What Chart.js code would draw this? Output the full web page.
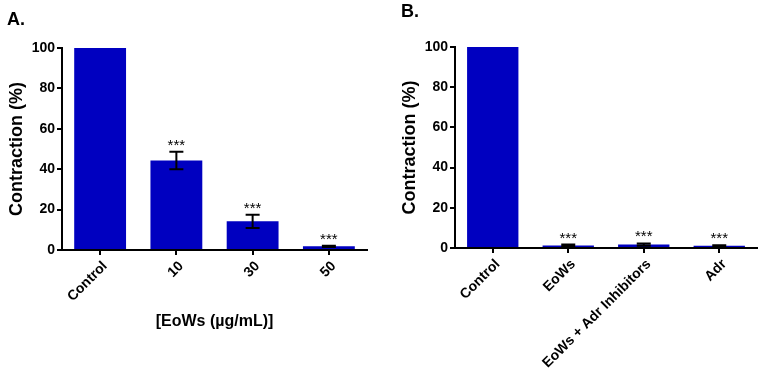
<!DOCTYPE html>
<html>
<head>
<meta charset="utf-8">
<script src="https://cdn.jsdelivr.net/npm/chart.js@4.4.0/dist/chart.umd.min.js"></script>
<style>
  html, body { margin: 0; padding: 0; background: #fff; }
  body { width: 762px; height: 378px; position: relative; overflow: hidden; font-family: "Liberation Sans", Arial, sans-serif; }
  .panel { position: absolute; top: 0; height: 378px; }
  #wrapA { left: 0; width: 380px; }
  #wrapB { left: 380px; width: 382px; }
  .tag { position: absolute; font-weight: bold; font-size: 18px; line-height: 18px; color: #000; }
</style>
</head>
<body>
<div class="panel" id="wrapA"><canvas id="chartA" width="380" height="378"></canvas></div>
<div class="panel" id="wrapB"><canvas id="chartB" width="382" height="378"></canvas></div>
<div class="tag" style="left:7px; top:10px;">A.</div>
<div class="tag" style="left:401px; top:2px;">B.</div>
<script>
const catsA = ['Control', '10', '30', '50'];
const valsA = [100, 44.3, 14.2, 1.8];
const errA = [0, 4.3, 3.3, 0.3];
const sigA = ['', '***', '***', '***'];

const catsB = ['Control', 'EoWs', 'EoWs + Adr Inhibitors', 'Adr'];
const valsB = [100, 1.2, 1.7, 1.1];
const errB = [0, 0.5, 0.6, 0.3];
const sigB = ['', '***', '***', '***'];

const yTicks = [0, 20, 40, 60, 80, 100];

const FONT = '"Liberation Sans", Arial, sans-serif';
const BAR = '#0000C0';

// error bars + significance stars
const errPlugin = {
  id: 'errStars',
  afterDatasetsDraw(chart, args, opts) {
    const ctx = chart.ctx;
    const y = chart.scales.y;
    const meta = chart.getDatasetMeta(0);
    const vals = chart.data.datasets[0].data;
    ctx.save();
    meta.data.forEach((bar, i) => {
      const e = opts.err[i];
      const top = y.getPixelForValue(vals[i] + e);
      if (e > 0) {
        const bot = y.getPixelForValue(vals[i] - e);
        ctx.strokeStyle = '#000';
        ctx.lineWidth = 2;
        ctx.beginPath();
        ctx.moveTo(bar.x, top); ctx.lineTo(bar.x, bot);
        ctx.moveTo(bar.x - 7, top); ctx.lineTo(bar.x + 7, top);
        ctx.moveTo(bar.x - 7, bot); ctx.lineTo(bar.x + 7, bot);
        ctx.stroke();
      }
      if (opts.sig[i]) {
        ctx.fillStyle = '#000';
        ctx.font = '15px ' + FONT;
        ctx.textAlign = 'center';
        ctx.textBaseline = 'alphabetic';
        ctx.fillText(opts.sig[i], bar.x, top - 2);
      }
    });
    ctx.restore();
  }
};

function makeChart(id, cats, vals, err, sig, box) {
  return new Chart(document.getElementById(id), {
    type: 'bar',
    data: {
      labels: cats,
      datasets: [{
        data: vals,
        backgroundColor: BAR,
        borderWidth: 0,
        categoryPercentage: 1,
        barPercentage: 0.68
      }]
    },
    options: {
      responsive: false,
      animation: false,
      events: [],
      layout: { padding: { left: 0, right: box.right, top: box.top, bottom: 0 } },
      plugins: {
        legend: { display: false },
        tooltip: { enabled: false },
        errStars: { err: err, sig: sig }
      },
      scales: {
        x: {
          afterFit: s => { s.height = box.xh; s.paddingLeft = 0; s.paddingRight = 0; },
          border: { display: true, color: '#000', width: 2 },
          grid: { offset: false, drawOnChartArea: false, drawTicks: true, tickLength: 5, color: '#000', lineWidth: 2 },
          ticks: {
            color: '#000', maxRotation: 45, minRotation: 45, autoSkip: false, padding: 3, labelOffset: 5,
            font: { family: FONT, size: 14, weight: 'bold' }
          },
          title: {
            display: !!box.xtitle, text: box.xtitle || '', color: '#000',
            font: { family: FONT, size: 16, weight: 'bold', lineHeight: 1.2 },
            padding: { top: 0, bottom: 47 }
          }
        },
        y: {
          min: 0, max: 100,
          afterFit: s => { s.width = box.yw; s.paddingTop = 0; s.paddingBottom = 0; },
          afterBuildTicks: s => { s.ticks = yTicks.map(v => ({ value: v })); },
          border: { display: true, color: '#000', width: 2 },
          grid: { drawOnChartArea: false, drawTicks: true, tickLength: 5, color: '#000', lineWidth: 2 },
          ticks: {
            color: '#000', padding: 2,
            font: { family: FONT, size: 14, weight: 'bold' }
          },
          title: {
            display: true, text: 'Contraction (%)', color: '#000',
            font: { family: FONT, size: 18, weight: 'bold', lineHeight: 1.2 },
            padding: { top: box.ytp, bottom: 0 }
          }
        }
      }
    },
    plugins: [errPlugin]
  });
}

makeChart('chartA', catsA, valsA, errA, sigA,
  { right: 13, top: 48, xh: 128, yw: 62, ytp: 6.5, xtitle: '[EoWs (\u00b5g/mL)]' });
makeChart('chartB', catsB, valsB, errB, sigB,
  { right: 5, top: 47, xh: 130, yw: 75, ytp: 19, xtitle: '' });
</script>
</body>
</html>
